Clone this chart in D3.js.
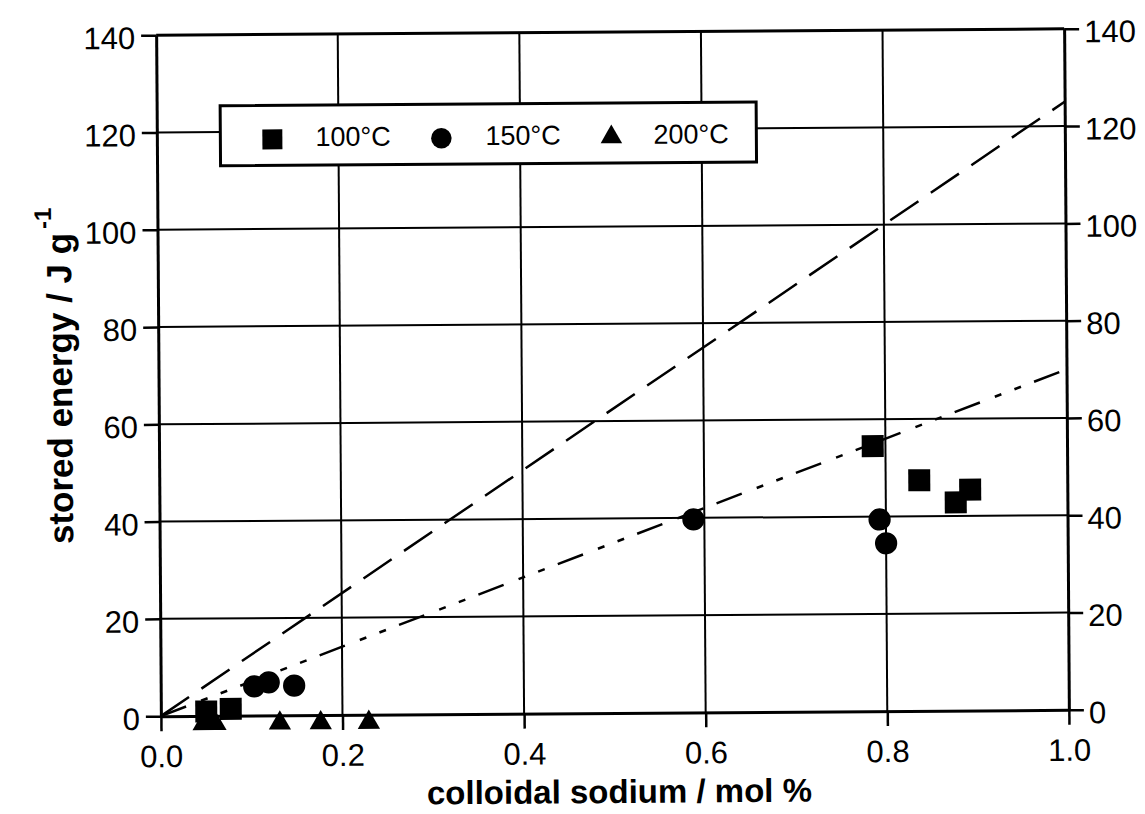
<html>
<head>
    <title>stored energy</title>
    <script src="https://d3js.org/d3.v7.min.js"></script>
    <style>
        body { margin: 0; background: #fff; }
        text { font-family: "Liberation Sans", Arial, sans-serif; fill: #000; }
    </style>
</head>
<body>
    <div id="chart"></div>

<script type="text/javascript">

    // data
    var xTicks = [0.0, 0.2, 0.4, 0.6, 0.8, 1.0];
    var yTicks = [0, 20, 40, 60, 80, 100, 120, 140];

    var sq100X = [0.050, 0.077, 0.786, 0.837, 0.877, 0.893];
    var sq100Y = [0.9, 1.4, 54.5, 47.4, 42.8, 45.4];

    var ci150X = [0.103, 0.119, 0.147, 0.588, 0.793, 0.800];
    var ci150Y = [6.0, 6.8, 6.1, 39.7, 39.4, 34.5];

    var tr200X = [0.047, 0.060, 0.131, 0.176, 0.229];
    var tr200Y = [-1.6, -1.6, -1.6, -1.6, -1.6];

    var dashLineX = [0.0, 1.0];
    var dashLineY = [0, 125];
    var dotLineX = [0.0, 1.0];
    var dotLineY = [0, 70];

    var legendLabels = ["100°C", "150°C", "200°C"];

    // set the dimensions of the graph
    var width = 1145,
        height = 814;
    var plotLeft = 158.5, plotRight = 1066.5, plotTop = 32, plotBottom = 713;

    var svg = d3.select("#chart")
        .append("svg")
        .attr("width", width)
        .attr("height", height)
        .style("background", "#fff");

    // the scan is slightly tilted
    var g = svg.append("g")
        .attr("transform", "rotate(-0.4, 612, 372)");

    var x = d3.scaleLinear().domain([0, 1]).range([plotLeft, plotRight]);
    var y = d3.scaleLinear().domain([0, 140]).range([plotBottom, plotTop]);

    // grid lines
    g.append("g")
        .selectAll("line")
        .data(xTicks.slice(1, -1))
        .enter()
        .append("line")
        .attr("x1", function(d) { return x(d); })
        .attr("x2", function(d) { return x(d); })
        .attr("y1", plotTop)
        .attr("y2", plotBottom)
        .attr("stroke", "#000")
        .attr("stroke-width", 2);

    g.append("g")
        .selectAll("line")
        .data(yTicks.slice(1, -1))
        .enter()
        .append("line")
        .attr("x1", plotLeft)
        .attr("x2", plotRight)
        .attr("y1", function(d) { return y(d); })
        .attr("y2", function(d) { return y(d); })
        .attr("stroke", "#000")
        .attr("stroke-width", 2);

    // Add X axis
    var xAxis = g.append("g")
        .attr("transform", "translate(0," + plotBottom + ")")
        .call(d3.axisBottom(x).tickValues(xTicks).tickFormat(d3.format(".1f"))
              .tickSize(15).tickPadding(14).tickSizeOuter(0));

    // Add Y axis left and right
    var yAxisL = g.append("g")
        .attr("transform", "translate(" + plotLeft + ",0)")
        .call(d3.axisLeft(y).tickValues(yTicks).tickSize(15).tickPadding(6).tickSizeOuter(0));

    var yAxisR = g.append("g")
        .attr("transform", "translate(" + plotRight + ",0)")
        .call(d3.axisRight(y).tickValues(yTicks).tickSize(15).tickPadding(5).tickSizeOuter(0));

    [xAxis, yAxisL, yAxisR].forEach(function(a) {
        a.attr("font-size", null).attr("font-family", null);
        a.selectAll("path").attr("stroke", "#000").attr("stroke-width", 3);
        a.selectAll("line").attr("stroke", "#000").attr("stroke-width", 2.5);
        a.selectAll("text")
            .style("font-size", "31px")
            .attr("fill", "#000");
    });
    yAxisL.selectAll("text").attr("dy", "0.42em");
    yAxisR.selectAll("text").attr("dy", "0.42em");

    // top border
    g.append("line")
        .attr("x1", plotLeft)
        .attr("x2", plotRight)
        .attr("y1", y(140))
        .attr("y2", y(140))
        .attr("stroke", "#000")
        .attr("stroke-width", 3);

    // fitted lines
    g.append("path")
        .datum(d3.zip(dashLineX, dashLineY))
        .attr("fill", "none")
        .attr("stroke", "#000")
        .attr("stroke-width", 2.5)
        .attr("stroke-dasharray", "34,15")
        .attr("d", d3.line()
              .x(function(d) { return x(d[0]); })
              .y(function(d) { return y(d[1]); }));

    g.append("path")
        .datum(d3.zip(dotLineX, dotLineY))
        .attr("fill", "none")
        .attr("stroke", "#000")
        .attr("stroke-width", 2.5)
        .attr("stroke-dasharray", "27,16,7,14,7,14")
        .attr("d", d3.line()
              .x(function(d) { return x(d[0]); })
              .y(function(d) { return y(d[1]); }));

    // Points
    var sqSym = d3.symbol().type(d3.symbolSquare).size(484);
    var ciSym = d3.symbol().type(d3.symbolCircle).size(390);
    var trSym = d3.symbol().type(d3.symbolTriangle).size(215);

    g.append("g")
        .selectAll("path")
        .data(d3.zip(sq100X, sq100Y))
        .enter()
        .append("path")
        .attr("d", sqSym)
        .attr("transform", function(d) { return "translate(" + x(d[0]) + "," + y(d[1]) + ")"; })
        .attr("fill", "#000");

    g.append("g")
        .selectAll("path")
        .data(d3.zip(ci150X, ci150Y))
        .enter()
        .append("path")
        .attr("d", ciSym)
        .attr("transform", function(d) { return "translate(" + x(d[0]) + "," + y(d[1]) + ")"; })
        .attr("fill", "#000");

    g.append("g")
        .selectAll("path")
        .data(d3.zip(tr200X, tr200Y))
        .enter()
        .append("path")
        .attr("d", trSym)
        .attr("transform", function(d) { return "translate(" + x(d[0]) + "," + y(d[1]) + ")"; })
        .attr("fill", "#000");

    // legend
    var legend = g.append("g").attr("transform", "translate(222,103)");
    legend.append("rect")
        .attr("width", 536)
        .attr("height", 60)
        .attr("fill", "#fff")
        .attr("stroke", "#000")
        .attr("stroke-width", 3);

    var legSyms = [sqSym.size(400), ciSym.size(330), trSym.size(200)];
    var legSymX = [52, 221, 391];
    var legTextX = [95, 265, 433];
    legendLabels.forEach(function(lab, i) {
        legend.append("path")
            .attr("d", legSyms[i]())
            .attr("transform", "translate(" + legSymX[i] + ",34)")
            .attr("fill", "#000");
        legend.append("text")
            .attr("x", legTextX[i])
            .attr("y", 41)
            .style("font-size", "27px")
            .text(lab);
    });

    // axis titles
    g.append("text")
        .attr("x", (plotLeft + plotRight) / 2 + 4)
        .attr("y", 803)
        .style("text-anchor", "middle")
        .style("font-size", "33px")
        .style("font-weight", "bold")
        .text("colloidal sodium / mol %");

    var yTitle = g.append("text")
        .attr("transform", "translate(72,372) rotate(-90)")
        .style("text-anchor", "middle")
        .style("font-size", "35px")
        .style("font-weight", "bold");
    yTitle.append("tspan").text("stored energy / J g");
    yTitle.append("tspan")
        .attr("dy", -20)
        .attr("dx", 4)
        .style("font-size", "24px")
        .text("-1");

</script>
</body>
</html>
